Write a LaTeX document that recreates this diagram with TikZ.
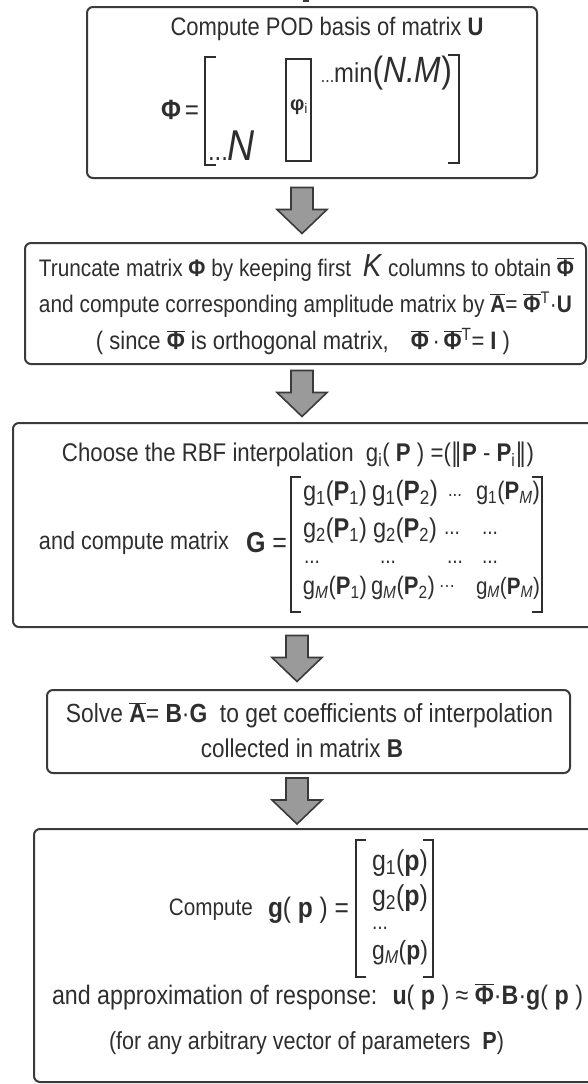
\documentclass[tikz,border=0pt]{standalone}
\usepackage{fontspec}
\usepackage{graphicx}
\setmainfont{Liberation Sans}
\newfontfamily\dv{DejaVu Sans}
\usetikzlibrary{calc}
\definecolor{boxc}{HTML}{3A3A3A}
\definecolor{txtc}{HTML}{2E2E2E}
\definecolor{arrfill}{HTML}{9A9A9A}
\definecolor{arrdraw}{HTML}{3A3A3A}
\newcommand\fs[1]{\fontsize{#1}{#1}\selectfont}
\newcommand\bPhi{\textbf{Φ}}
\newcommand\bPhiBar{$\overline{\hbox{\bfseries Φ}}$}
\newcommand\bABar{$\overline{\hbox{\bfseries A}}$}
\newcommand\fitw[2]{\resizebox{#1pt}{!}{\scalebox{1}[1.15]{#2}}}
\newcommand\nrm{{\dv ‖}}
\newcommand\sdots{{\fs{14}...}}
\begin{document}
\begin{tikzpicture}[x=1pt,y=-1pt,
  box/.style={draw=boxc, line width=2pt, rounded corners=6pt, inner sep=0pt},
  txt/.style={inner sep=0pt, text=txtc, font=\fs{21}},
  brk/.style={draw=txtc, line width=1.6pt},
  blockarrow/.style={fill=arrfill, draw=arrdraw, line width=1.6pt, line join=miter},
  downarrow/.pic={\draw[blockarrow] (-11,-23) -- (11,-23) -- (11,-1) -- (25,-1) -- (0,23) -- (-25,-1) -- (-11,-1) -- cycle;}]
\useasboundingbox (0,0) rectangle (588,1084);

% boxes
\node[box, minimum width=450pt, minimum height=171pt] (b1) at (312,92.5) {};
\node[box, minimum width=561pt, minimum height=121pt] (b2) at (305.5,303.5) {};
\node[box, minimum width=587pt, minimum height=204pt] (b3) at (306.5,525) {};
\node[box, minimum width=523pt, minimum height=83pt] (b4) at (308.5,731.5) {};
\node[box, minimum width=566pt, minimum height=253pt] (b5) at (317,955.5) {};

% small stub at top
\fill[arrdraw] (303,0) rectangle (309,2);

% block arrows between boxes
\coordinate (ax1) at (302,0);
\coordinate (ax2) at (297,0);
\coordinate (m1) at ($(b1.south)!0.5!(b2.north)$);
\coordinate (m2) at ($(b2.south)!0.5!(b3.north)$);
\coordinate (m3) at ($(b3.south)!0.5!(b4.north)$);
\coordinate (m4) at ($(b4.south)!0.5!(b5.north)$);
\pic at (m1 -| ax1) {downarrow};
\pic at (m2 -| ax1) {downarrow};
\pic at (m3 -| ax2) {downarrow};
\pic at (m4 -| ax2) {downarrow};

% ---- box 1
\node[txt] (t1) at (327,29) {\fitw{313}{Compute POD basis of matrix \textbf{U}}};
\node[txt] (phi) at (180,110) {\fitw{38}{\fs{26}\bPhi\,=}};
\draw[brk] (216,57) -- (205,57) -- (205,165) -- (216,165);
\draw[brk] (448,55) -- (459,55) -- (459,163) -- (448,163);
\node[draw=txtc, line width=1.6pt, minimum width=25pt, minimum height=102pt, inner sep=0pt] (col) at (298.5,110) {};
\node[txt] (phii) at (299,107) {\fs{20}\textbf{φ}\textsubscript{i}};
\node[txt] (minNM) at (386.5,73) {\fitw{131}{\sdots min{\fs{28}(\textit{N.M})}}};
\node[txt] (dN) at (231.5,146) {\fitw{47}{\sdots{\fs{22}\textit{N}}}};

% ---- box 2
\node[txt] (l21) at (306.5,268) {\fitw{535}{Truncate matrix \bPhi\ by keeping first \ {\fs{28}\textit{K}} columns to obtain \bPhiBar}};
\node[txt] (l22) at (305.5,305) {\fitw{533}{and compute corresponding amplitude matrix by \bABar= \bPhiBar\textsuperscript{T}·\textbf{U}}};
\node[txt] (l23) at (303,342) {\fitw{414}{( since \bPhiBar\ is orthogonal matrix,\quad \bPhiBar\,·\,\bPhiBar\textsuperscript{T}= \textbf{I} )}};

% ---- box 3
\node[txt] (l31) at (298,455) {\fitw{472}{Choose the RBF interpolation \ g\textsubscript{i}( \textbf{P} ) =(\nrm\textbf{P} - \textbf{P}\textsubscript{i}\nrm)}};
\node[txt] (l32) at (134,543) {\fitw{190}{and compute matrix}};
\node[txt] (Geq) at (266.5,543) {\fitw{41}{\textbf{G} =}};
\draw[brk] (301,477) -- (291,477) -- (291,612) -- (301,612);
\draw[brk] (532,477) -- (542,477) -- (542,612) -- (532,612);
\node[txt] (g11) at (335,493) {\fitw{64}{g\textsubscript{1}(\textbf{P}\textsubscript{1})}};
\node[txt] (g12) at (405,493) {\fitw{66}{g\textsubscript{1}(\textbf{P}\textsubscript{2})}};
\node[txt] (g13) at (455,495) {\fitw{14}{...}};
\node[txt] (g14) at (508,493) {\fitw{64}{g\textsubscript{1}(\textbf{P}\textsubscript{\textit{M}})}};
\node[txt] (g21) at (335,530) {\fitw{64}{g\textsubscript{2}(\textbf{P}\textsubscript{1})}};
\node[txt] (g22) at (405,530) {\fitw{64}{g\textsubscript{2}(\textbf{P}\textsubscript{2})}};
\node[txt] (g23) at (452,533) {\fitw{16}{...}};
\node[txt] (g24) at (490,533) {\fitw{16}{...}};
\node[txt] (g31) at (312,562) {\fitw{16}{...}};
\node[txt] (g32) at (388,562) {\fitw{16}{...}};
\node[txt] (g33) at (455,562) {\fitw{16}{...}};
\node[txt] (g34) at (490,562) {\fitw{16}{...}};
\node[txt] (g41) at (335,588) {\fitw{64}{g\textsubscript{\textit{M}}(\textbf{P}\textsubscript{1})}};
\node[txt] (g42) at (403,588) {\fitw{64}{g\textsubscript{\textit{M}}(\textbf{P}\textsubscript{2})}};
\node[txt] (g43) at (447,588) {\fitw{16}{···}};
\node[txt] (g44) at (508,588) {\fitw{64}{g\textsubscript{\textit{M}}(\textbf{P}\textsubscript{\textit{M}})}};

% ---- box 4
\node[txt] (l41) at (309.5,715) {\fitw{487}{Solve \bABar = \textbf{B}·\textbf{G} \ to get coefficients of interpolation}};
\node[txt] (l42) at (302,748) {\fitw{202}{collected in matrix \textbf{B}}};

% ---- box 5
\node[txt] (l51) at (211,910) {\fitw{84}{Compute}};
\node[txt] (gp) at (308.5,910) {\fitw{81}{\textbf{g}( \textbf{p} ) =}};
\draw[brk] (366,840) -- (356,840) -- (356,977) -- (366,977);
\draw[brk] (423,840) -- (433,840) -- (433,977) -- (423,977);
\node[txt] (v1) at (400,863) {\fitw{56}{g\textsubscript{1}(\textbf{p})}};
\node[txt] (v2) at (400,898) {\fitw{56}{g\textsubscript{2}(\textbf{p})}};
\node[txt] (v3) at (380,928) {\fitw{16}{...}};
\node[txt] (v4) at (400,953) {\fitw{56}{g\textsubscript{\textit{M}}(\textbf{p})}};
\node[txt] (l52) at (317.5,997) {\fitw{531}{and approximation of response: \ \textbf{u}( \textbf{p} ) ≈ \bPhiBar·\textbf{B}·\textbf{g}( \textbf{p} )}};
\node[txt] (l53) at (306.5,1043) {\fitw{395}{(for any arbitrary vector of parameters \ \textbf{P})}};
\end{tikzpicture}
\end{document}
